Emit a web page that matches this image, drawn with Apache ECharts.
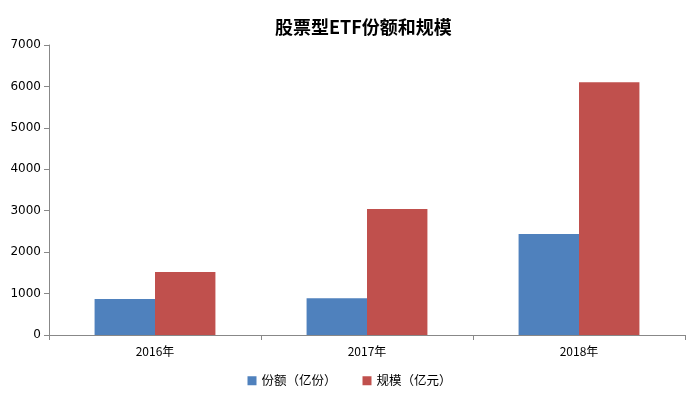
<!DOCTYPE html>
<html><head><meta charset="utf-8">
<script src="https://cdn.jsdelivr.net/npm/echarts@6/dist/echarts.min.js"></script>
<style>html,body{margin:0;padding:0;background:#fff}#c{width:699px;height:397px}</style>
</head><body><div id="c"></div>
<script>
const categories = ['2016年', '2017年', '2018年'];
const shares = [870, 890, 2440];
const scale = [1520, 3040, 6100];
const seriesNames = ['份额（亿份）', '规模（亿元）'];
const yTicks = { min: 0, max: 7000, interval: 1000 };

const chart = echarts.init(document.getElementById('c'));
const font = '"Noto Sans CJK SC", "DejaVu Sans", sans-serif';
chart.setOption({
  animation: false,
  textStyle: { fontFamily: font },
  title: {
    text: '股票型ETF份额和规模', left: 270, top: 13,
    textStyle: { fontSize: 18, fontWeight: 'bold', color: '#000', fontFamily: font }
  },
  legend: {
    bottom: 5, left: 'center', itemWidth: 9, itemHeight: 9, itemGap: 26,
    icon: 'rect',
    textStyle: { fontSize: 12.5, color: '#000', fontFamily: font },
    data: seriesNames
  },
  grid: { left: 49, right: 14, top: 45, bottom: 62 },
  xAxis: {
    type: 'category', data: categories,
    axisLine: { lineStyle: { color: '#888' } },
    axisTick: { show: true, alignWithLabel: false, length: 5, lineStyle: { color: '#888' } },
    axisLabel: { color: '#000', fontSize: 12, margin: 10 }
  },
  yAxis: {
    type: 'value', min: yTicks.min, max: yTicks.max, interval: yTicks.interval,
    axisLine: { show: true, lineStyle: { color: '#888' } },
    axisTick: { show: true, length: 5, lineStyle: { color: '#888' } },
    splitLine: { show: false },
    axisLabel: { color: '#000', fontSize: 12, margin: 8, fontFamily: '"DejaVu Sans", sans-serif',
      formatter: function (v) { return String(v); } }
  },
  series: [
    { name: seriesNames[0], type: 'bar', data: shares, itemStyle: { color: '#4F81BD' }, barGap: '0%', barCategoryGap: '43%' },
    { name: seriesNames[1], type: 'bar', data: scale, itemStyle: { color: '#C0504D' }, barGap: '0%', barCategoryGap: '43%' }
  ]
});
</script></body></html>
